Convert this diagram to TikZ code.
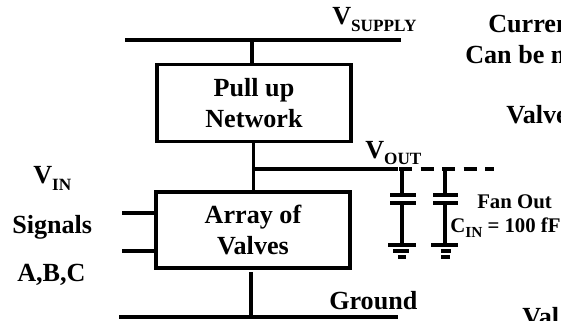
\documentclass[tikz,border=0pt]{standalone}
\usepackage{fontspec}
\setmainfont{Liberation Serif}
\usetikzlibrary{positioning}
\newcommand{\subtxt}[1]{\raisebox{-5.2pt}{\fontsize{12.9}{14}\selectfont #1}}

\begin{document}
\begin{tikzpicture}[
    x=0.75pt, y=-0.75pt,
    txt/.style={font=\fontsize{19.6}{23.5}\selectfont\bfseries, inner sep=0pt, anchor=base west},
    small/.style={font=\fontsize{15.6}{18}\selectfont\bfseries, inner sep=0pt, anchor=base west},
    block/.style={draw, line width=2.6pt, minimum width=145.5pt, minimum height=57.5pt,
                  align=center, inner sep=0pt, font=\fontsize{19.6}{23.5}\selectfont\bfseries},
    wire/.style={line width=2.6pt},
    plate/.style={line width=3pt},
  ]
  \useasboundingbox (0,0) rectangle (561,321);

  % Blocks
  \node[block] (pullup) at (254,103) {Pull up\\Network};
  \node[block, line width=3.2pt] (array) at (253,230) {Array of\\Valves};

  % Rails
  \coordinate (supplyL) at (125,40);
  \coordinate (supplyR) at (401,40);
  \coordinate (groundL) at (119,317);
  \coordinate (groundR) at (398,317);
  \draw[wire] (supplyL) -- (supplyR);
  \draw[wire] (groundL) -- (groundR);

  % Stubs to the blocks
  \coordinate (supplyTap) at (252,40);
  \coordinate (pullupTop) at (252,65);
  \coordinate (groundTap) at (251,317);
  \coordinate (arrayBot) at (251,272);
  \draw[wire] (supplyTap) -- (pullupTop);
  \draw[wire] (arrayBot) -- (groundTap);

  % Output net
  \coordinate (outTop) at (253.5,141);
  \coordinate (outBot) at (253.5,191);
  \coordinate (outNode) at (253.5,169);
  \coordinate (outEnd) at (398,169);
  \coordinate (fanEnd) at (494,169);
  \draw[wire] (outTop) -- (outBot);
  \draw[wire] (outNode) -- (outEnd);
  \draw[line width=3pt, dash pattern=on 9.75pt off 6.4pt] (outEnd) ++(1,0) -- (fanEnd);

  % Inputs
  \coordinate (inA) at (122,213);
  \coordinate (inB) at (122,251);
  \draw[wire] (inA) -- (inA -| array.west);
  \draw[wire] (inB) -- (inB -| array.west);

  % Load 1
  \coordinate (capAtop) at (402,169);
  \coordinate (capAup) at (402,195);
  \coordinate (capAlo) at (402,203);
  \coordinate (capAgnd) at (402,245);
  \draw[wire, line width=2.8pt] (capAtop) -- (capAup);
  \draw[wire, line width=2.8pt] (capAlo) -- (capAgnd);
  \draw[plate] (390,195) -- (416,195);
  \draw[plate] (390,203) -- (416,203);
  \draw[plate] (388,245) -- (416,245);
  \draw[wire] (393,251) -- (409,251);
  \draw[plate] (398,257) -- (406,257);

  % Load 2
  \coordinate (capBtop) at (445,169);
  \coordinate (capBup) at (445,195);
  \coordinate (capBlo) at (445,203);
  \coordinate (capBgnd) at (445,245);
  \draw[wire, line width=2.8pt] (capBtop) -- (capBup);
  \draw[wire, line width=2.8pt] (capBlo) -- (capBgnd);
  \draw[plate] (433,195) -- (458,195);
  \draw[plate] (433,203) -- (458,203);
  \draw[plate] (431,245) -- (458,245);
  \draw[wire] (441,251) -- (451,251);
  \draw[plate] (441,257) -- (450,257);

  % Labels
  \node[txt] (vsupply) at (332,25) {V\subtxt{SUPPLY}};
  \node[txt] (vout) at (365,158) {V\subtxt{OUT}};
  \node[txt] (vin) at (33,184) {V\subtxt{IN}};
  \node[txt] (signals) at (12,233) {Signals};
  \node[txt] (abc) at (17,281) {A,B,C};
  \node[txt] (ground) at (329,309) {Ground};
  \node[small] (fanout) at (477,208) {Fan Out};
  \node[small] (cin) at (450,232) {C\raisebox{-3.8pt}{\fontsize{11.5}{14}\selectfont IN} = 100 fF};

  % Text at the right edge
  \node[txt] (curren) at (488,33) {Curren};
  \node[txt] (canbe) at (465,64) {Can be m};
  \node[txt] (valve) at (506,123) {Valve};
  \node[txt] (val) at (522,325) {Val};
\end{tikzpicture}
\end{document}
